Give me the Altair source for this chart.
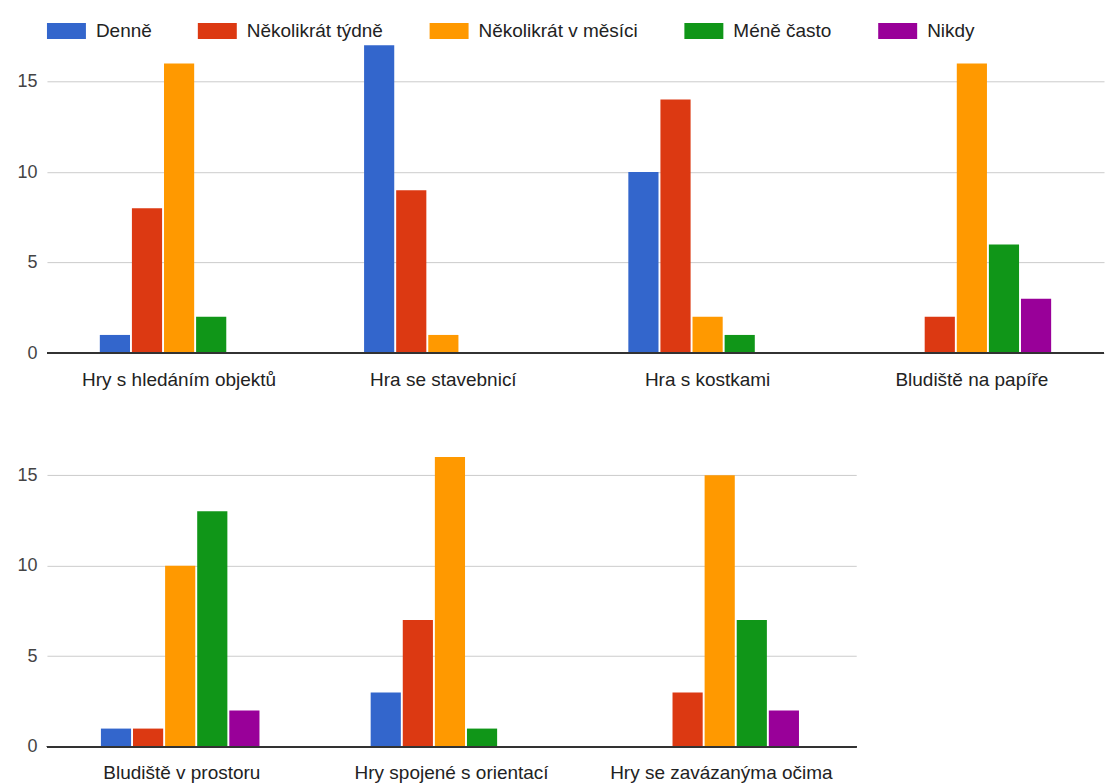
import altair as alt
import pandas as pd

series = ["Denně", "Několikrát týdně", "Několikrát v měsíci", "Méně často", "Nikdy"]
colors = ["#3366cc", "#dc3912", "#ff9900", "#109618", "#990099"]

top_categories = ["Hry s hledáním objektů", "Hra se stavebnicí", "Hra s kostkami", "Bludiště na papíře"]
top_denne = [1, 17, 10, 0]
top_tydne = [8, 9, 14, 2]
top_mesic = [16, 1, 2, 16]
top_mene = [2, 0, 1, 6]
top_nikdy = [0, 0, 0, 3]

bottom_categories = ["Bludiště v prostoru", "Hry spojené s orientací", "Hry se zavázanýma očima"]
bottom_denne = [1, 3, 0]
bottom_tydne = [1, 7, 3]
bottom_mesic = [10, 16, 15]
bottom_mene = [13, 1, 7]
bottom_nikdy = [2, 0, 2]

y_ticks = [0, 5, 10, 15]

FONT = "Liberation Sans"


def make_df(cats, cols):
    rows = []
    for i, c in enumerate(cats):
        for s, col in zip(series, cols):
            rows.append({"kategorie": c, "odpoved": s, "pocet": col[i]})
    return pd.DataFrame(rows)


def panel(cats, cols, width):
    df = make_df(cats, cols)
    base = alt.Chart(df)
    bars = base.mark_bar().encode(
        x=alt.X(
            "kategorie:N",
            sort=cats,
            title=None,
            scale=alt.Scale(paddingInner=0.4, paddingOuter=0.2),
            axis=alt.Axis(
                labelAngle=0, ticks=False, domain=False, labelPadding=17,
                labelFontSize=19, labelFont=FONT, labelColor="#222222", labelLimit=400,
            ),
        ),
        xOffset=alt.XOffset("odpoved:N", sort=series, scale=alt.Scale(paddingInner=0.06, paddingOuter=0)),
        y=alt.Y(
            "pocet:Q",
            title=None,
            scale=alt.Scale(domain=[0, 17], nice=False),
            axis=alt.Axis(
                values=y_ticks, ticks=False, domain=False, labelPadding=10,
                labelFontSize=18, labelFont=FONT, labelColor="#444444",
                gridColor="#cccccc", minExtent=34,
            ),
        ),
        color=alt.Color(
            "odpoved:N",
            sort=series,
            scale=alt.Scale(domain=series, range=colors),
            legend=alt.Legend(
                title=None, orient="top", direction="horizontal",
                symbolType="M-1,-0.41H1V0.41H-1Z", symbolSize=1521,
                symbolStrokeWidth=0, labelFontSize=19, labelFont=FONT,
                labelColor="#222222", labelOffset=10, columnPadding=46,
                offset=4, labelLimit=400,
            ),
        ),
    )
    zero = base.mark_rule(color="#333333", strokeWidth=1.5).encode(y=alt.datum(0))
    return alt.layer(bars, zero).properties(width=width, height=308)


top = panel(top_categories, [top_denne, top_tydne, top_mesic, top_mene, top_nikdy], 1058)
bottom = panel(bottom_categories, [bottom_denne, bottom_tydne, bottom_mesic, bottom_mene, bottom_nikdy], 810)

chart = (
    alt.vconcat(top, bottom, spacing=50)
    .properties(
        padding={"left": 5, "top": 3, "right": 0, "bottom": 5},
        background="white",
    )
    .configure_view(strokeWidth=0, stroke="transparent")
)

chart.save("out.html", embed_options={"renderer": "svg", "actions": False})
